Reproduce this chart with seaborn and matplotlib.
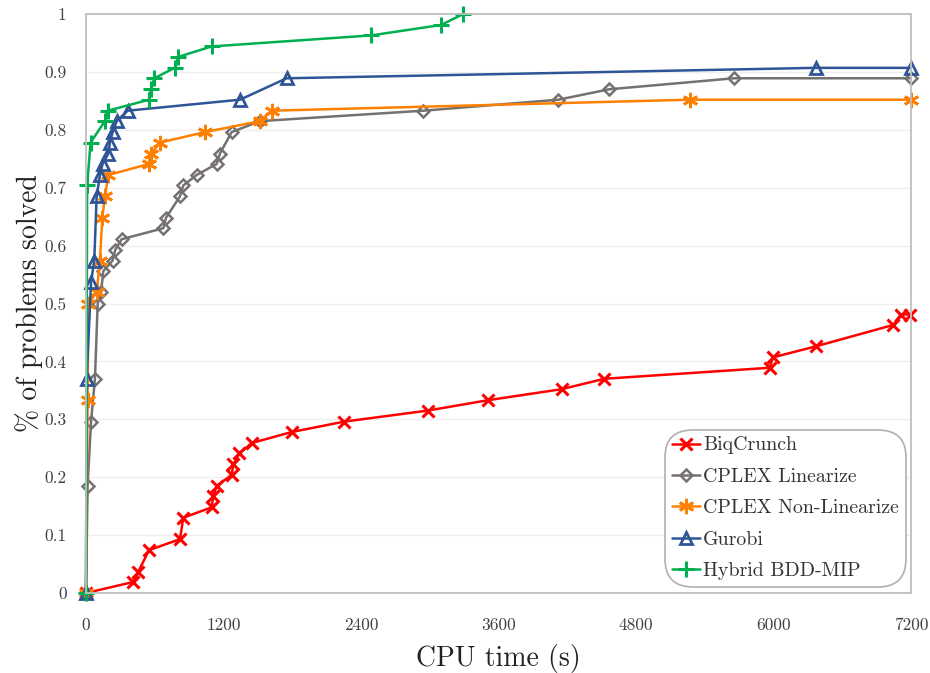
import numpy as np
import pandas as pd
import matplotlib
matplotlib.use("Agg")
import matplotlib.pyplot as plt
import matplotlib.ticker as mticker
import seaborn as sns

# ---- data ----
biq_x = [0, 413, 457, 550, 820, 849, 1097, 1111, 1140, 1271, 1286, 1338, 1446,
         1795, 2254, 2981, 3509, 4150, 4525, 5967, 5995, 6370, 7046, 7110, 7190]
biq_y = [0, 0.019, 0.037, 0.074, 0.093, 0.130, 0.148, 0.167, 0.185, 0.204, 0.222,
         0.241, 0.259, 0.278, 0.296, 0.315, 0.333, 0.352, 0.370, 0.389, 0.407,
         0.426, 0.463, 0.481, 0.481]

lin_x = [0, 14, 44, 78, 102, 131, 151, 232, 256, 311, 675, 698, 820, 849, 966,
         1140, 1169, 1271, 1518, 2944, 4122, 4567, 5655, 7200]
lin_y = [0, 0.185, 0.296, 0.370, 0.500, 0.519, 0.556, 0.574, 0.593, 0.611, 0.630,
         0.648, 0.685, 0.704, 0.722, 0.741, 0.759, 0.796, 0.815, 0.833, 0.852,
         0.870, 0.889, 0.889]

nonlin_x = [0, 14, 20, 93, 122, 142, 166, 195, 550, 567, 646, 1039, 1518, 1620,
            5271, 7200]
nonlin_y = [0, 0.333, 0.500, 0.519, 0.574, 0.648, 0.685, 0.722, 0.741, 0.759,
            0.778, 0.796, 0.815, 0.833, 0.852, 0.852]

gur_x = [0, 6, 44, 72, 93, 122, 145, 195, 209, 233, 268, 364, 1344, 1751, 6371, 7200]
gur_y = [0, 0.370, 0.537, 0.574, 0.685, 0.722, 0.741, 0.759, 0.778, 0.796, 0.815,
         0.833, 0.852, 0.889, 0.907, 0.907]

hyb_x = [0, 10, 40, 165, 190, 550, 567, 596, 774, 806, 1097, 2487, 3098, 3293]
hyb_y = [0, 0.704, 0.778, 0.815, 0.833, 0.852, 0.870, 0.889, 0.907, 0.926, 0.944,
         0.963, 0.981, 1.0]

series_names = ["BiqCrunch", "CPLEX Linearize", "CPLEX Non-Linearize", "Gurobi",
                "Hybrid BDD-MIP"]
x_ticks = [0, 1200, 2400, 3600, 4800, 6000, 7200]
y_ticks = [0, 0.1, 0.2, 0.3, 0.4, 0.5, 0.6, 0.7, 0.8, 0.9, 1.0]

frames = []
for name, xs, ys in zip(series_names,
                        [biq_x, lin_x, nonlin_x, gur_x, hyb_x],
                        [biq_y, lin_y, nonlin_y, gur_y, hyb_y]):
    frames.append(pd.DataFrame({"time": xs, "solved": ys, "solver": name}))
df = pd.concat(frames, ignore_index=True)

# ---- styling ----
sns.set_theme(style="white")
plt.rcParams["font.family"] = ["cmr10", "DejaVu Serif"]
plt.rcParams["axes.formatter.use_mathtext"] = True
plt.rcParams["mathtext.fontset"] = "cm"

styles = {
    "BiqCrunch": dict(color="#ff0000", marker="x", ms=9, mew=2.2, mfc="none"),
    "CPLEX Linearize": dict(color="#767171", marker="D", ms=6.5, mew=1.8, mfc="none"),
    "CPLEX Non-Linearize": dict(color="#ff8000", marker=(6, 2, 0), ms=11, mew=2.0, mfc="none"),
    "Gurobi": dict(color="#2f5597", marker="^", ms=9, mew=2.0, mfc="none"),
    "Hybrid BDD-MIP": dict(color="#00b050", marker="+", ms=11, mew=2.2, mfc="none"),
}

fig = plt.figure(figsize=(9.3, 6.73), dpi=100)
ax = fig.add_axes([86 / 930, 1 - 593 / 673, 825 / 930, 579 / 673])

for name in series_names:
    st = styles[name]
    sub = df[df["solver"] == name]
    sns.lineplot(data=sub, x="time", y="solved", ax=ax, estimator=None, sort=False,
                 color=st["color"], marker=st["marker"], markersize=st["ms"],
                 markeredgewidth=st["mew"], markeredgecolor=st["color"],
                 markerfacecolor=st["mfc"], linewidth=1.8, label=name,
                 clip_on=False)

ax.set_xlim(0, 7200)
ax.set_ylim(0, 1)
ax.set_xticks(x_ticks)
ax.set_yticks(y_ticks)
ax.yaxis.set_major_formatter(mticker.FuncFormatter(lambda v, p: f"{v:g}"))
ax.xaxis.set_major_formatter(mticker.FuncFormatter(lambda v, p: f"{v:g}"))
ax.tick_params(axis="both", length=0, labelsize=12.5, labelcolor="#404040")
ax.tick_params(axis="x", pad=18)
ax.tick_params(axis="y", pad=14)

ax.yaxis.grid(True, color="#efefef", linewidth=1.0)
ax.xaxis.grid(False)
ax.set_axisbelow(True)
for sp in ax.spines.values():
    sp.set_visible(True)
    sp.set_color("#bfbfbf")
    sp.set_linewidth(1.3)

ax.set_xlabel("CPU time (s)", fontsize=20, color="#222222", labelpad=8)
ax.set_ylabel("% of problems solved", fontsize=20, color="#222222", labelpad=1)

leg = ax.legend(loc="lower right", bbox_to_anchor=(0.994, 0.010), borderaxespad=0,
                fontsize=14.3, frameon=True, fancybox=True, handlelength=1.4,
                handletextpad=0.15, labelspacing=0.68, borderpad=0.35)
frame = leg.get_frame()
frame.set_edgecolor("#b0b0b0")
frame.set_linewidth(1.2)
frame.set_facecolor("white")
frame.set_alpha(1.0)
frame.set_boxstyle("round,pad=0.0,rounding_size=1.4")
for t in leg.get_texts():
    t.set_color("#333333")

fig.savefig("out.png", dpi=100)
